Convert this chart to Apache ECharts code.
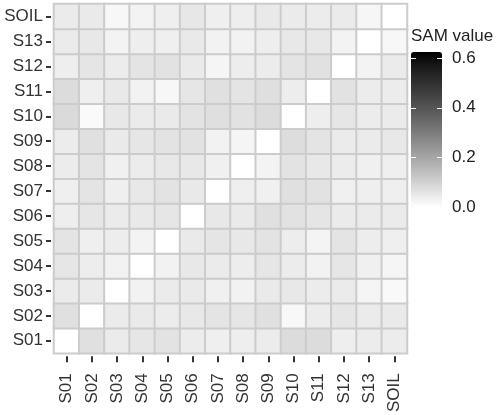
<!DOCTYPE html>
<html lang="en">
<head>
    <meta charset="UTF-8">
    <title>SAM value heatmap</title>
    <style>
        html, body { margin: 0; padding: 0; background: #fff; }
        #main { width: 498px; height: 415px; }
    </style>
</head>
<body>
<div id="main"></div>
<script src="https://cdn.jsdelivr.net/npm/echarts@6/dist/echarts.min.js"></script>
<script>
    // samples, bottom to top on y / left to right on x
    var samples = ['S01', 'S02', 'S03', 'S04', 'S05', 'S06', 'S07', 'S08', 'S09', 'S10', 'S11', 'S12', 'S13', 'SOIL'];

    // SAM value of each row sample against S01 ... SOIL
    var rowS01  = [0.000, 0.068, 0.044, 0.054, 0.061, 0.041, 0.035, 0.037, 0.041, 0.076, 0.076, 0.037, 0.041, 0.041];
    var rowS02  = [0.068, 0.000, 0.044, 0.046, 0.041, 0.050, 0.059, 0.054, 0.068, 0.015, 0.041, 0.054, 0.044, 0.046];
    var rowS03  = [0.044, 0.044, 0.000, 0.028, 0.044, 0.046, 0.033, 0.028, 0.046, 0.050, 0.041, 0.044, 0.022, 0.013];
    var rowS04  = [0.054, 0.039, 0.028, 0.000, 0.028, 0.050, 0.044, 0.039, 0.054, 0.041, 0.028, 0.054, 0.033, 0.022];
    var rowS05  = [0.059, 0.035, 0.039, 0.026, 0.000, 0.046, 0.057, 0.050, 0.061, 0.039, 0.024, 0.059, 0.039, 0.035];
    var rowS06  = [0.037, 0.054, 0.044, 0.048, 0.054, 0.000, 0.050, 0.046, 0.068, 0.063, 0.057, 0.044, 0.044, 0.044];
    var rowS07  = [0.035, 0.059, 0.035, 0.050, 0.061, 0.048, 0.000, 0.035, 0.033, 0.068, 0.063, 0.033, 0.035, 0.035];
    var rowS08  = [0.041, 0.059, 0.033, 0.041, 0.050, 0.050, 0.033, 0.000, 0.026, 0.061, 0.050, 0.041, 0.033, 0.035];
    var rowS09  = [0.041, 0.068, 0.046, 0.054, 0.061, 0.063, 0.028, 0.022, 0.000, 0.074, 0.059, 0.044, 0.044, 0.050];
    var rowS10  = [0.081, 0.011, 0.050, 0.044, 0.046, 0.061, 0.070, 0.063, 0.076, 0.000, 0.037, 0.054, 0.041, 0.044];
    var rowS11  = [0.076, 0.035, 0.048, 0.028, 0.017, 0.054, 0.068, 0.059, 0.070, 0.039, 0.000, 0.063, 0.041, 0.041];
    var rowS12  = [0.037, 0.057, 0.041, 0.059, 0.063, 0.046, 0.022, 0.039, 0.041, 0.059, 0.065, 0.000, 0.026, 0.044];
    var rowS13  = [0.044, 0.050, 0.026, 0.037, 0.035, 0.048, 0.028, 0.028, 0.037, 0.050, 0.050, 0.026, 0.000, 0.017];
    var rowSOIL = [0.044, 0.046, 0.017, 0.026, 0.035, 0.052, 0.035, 0.037, 0.048, 0.044, 0.041, 0.044, 0.020, 0.000];

    var legendTicks = [0, 0.2, 0.4, 0.6];
    var samMax = 0.625;

    var rows = [rowS01, rowS02, rowS03, rowS04, rowS05, rowS06, rowS07,
        rowS08, rowS09, rowS10, rowS11, rowS12, rowS13, rowSOIL];
    var heatData = [];
    for (var y = 0; y < rows.length; y++) {
        for (var x = 0; x < rows[y].length; x++) {
            heatData.push([x, y, rows[y][x]]);
        }
    }

    var textColor = '#333';
    var fontFamily = '"Liberation Sans", Arial, sans-serif';

    var myChart = echarts.init(document.getElementById('main'));
    var option = {
        backgroundColor: '#fff',
        animation: false,
        textStyle: { fontFamily: fontFamily },
        title: {
            text: 'SAM value',
            left: 411,
            top: 28,
            padding: 0,
            textStyle: { fontSize: 17, fontWeight: 'normal', color: '#222', fontFamily: fontFamily }
        },
        grid: [
            { left: 54, top: 4, width: 353, height: 354 },
            { left: 411, top: 52, width: 31, height: 155 }
        ],
        xAxis: [
            {
                type: 'category',
                data: samples,
                offset: 3,
                axisLine: { show: false },
                axisTick: { show: true, alignWithLabel: true, length: 6, lineStyle: { color: textColor, width: 2 } },
                axisLabel: { rotate: 90, interval: 0, margin: 17, fontSize: 17, color: textColor },
                splitLine: { show: false }
            },
            { gridIndex: 1, type: 'value', min: 0, max: 1, show: false }
        ],
        yAxis: [
            {
                type: 'category',
                data: samples,
                offset: 3,
                axisLine: { show: false },
                axisTick: { show: true, alignWithLabel: true, length: 5, lineStyle: { color: textColor, width: 2 } },
                axisLabel: { interval: 0, margin: 8, fontSize: 17, color: textColor },
                splitLine: { show: false }
            },
            {
                gridIndex: 1, type: 'value', min: 0, max: samMax, position: 'left', z: 10,
                axisLine: { show: false },
                axisTick: { show: true, inside: true, length: 5, lineStyle: { color: '#fff', width: 1 }, customValues: legendTicks },
                axisLabel: { show: false },
                splitLine: { show: false }
            },
            {
                gridIndex: 1, type: 'value', min: 0, max: samMax, position: 'right', z: 10,
                axisLine: { show: false },
                axisTick: { show: true, inside: true, length: 5, lineStyle: { color: '#fff', width: 1 }, customValues: legendTicks },
                axisLabel: {
                    customValues: legendTicks, margin: 10, fontSize: 17, color: '#222',
                    formatter: function (v) { return v.toFixed(1); }
                },
                splitLine: { show: false }
            }
        ],
        visualMap: {
            type: 'continuous',
            min: 0,
            max: samMax,
            seriesIndex: 0,
            calculable: false,
            orient: 'vertical',
            left: 411,
            top: 52,
            padding: 0,
            itemWidth: 31,
            itemHeight: 155,
            hoverLink: false,
            // white -> black through Lab lightness steps
            inRange: {
                color: ['#ffffff', '#e2e2e2', '#c6c6c6', '#ababab', '#919191', '#777777',
                    '#5e5e5e', '#474747', '#303030', '#1b1b1b', '#000000']
            }
        },
        series: [{
            type: 'heatmap',
            data: heatData,
            itemStyle: { borderColor: '#cccccc', borderWidth: 2 },
            emphasis: { disabled: true },
            label: { show: false }
        }]
    };
    myChart.setOption(option);
</script>
</body>
</html>
